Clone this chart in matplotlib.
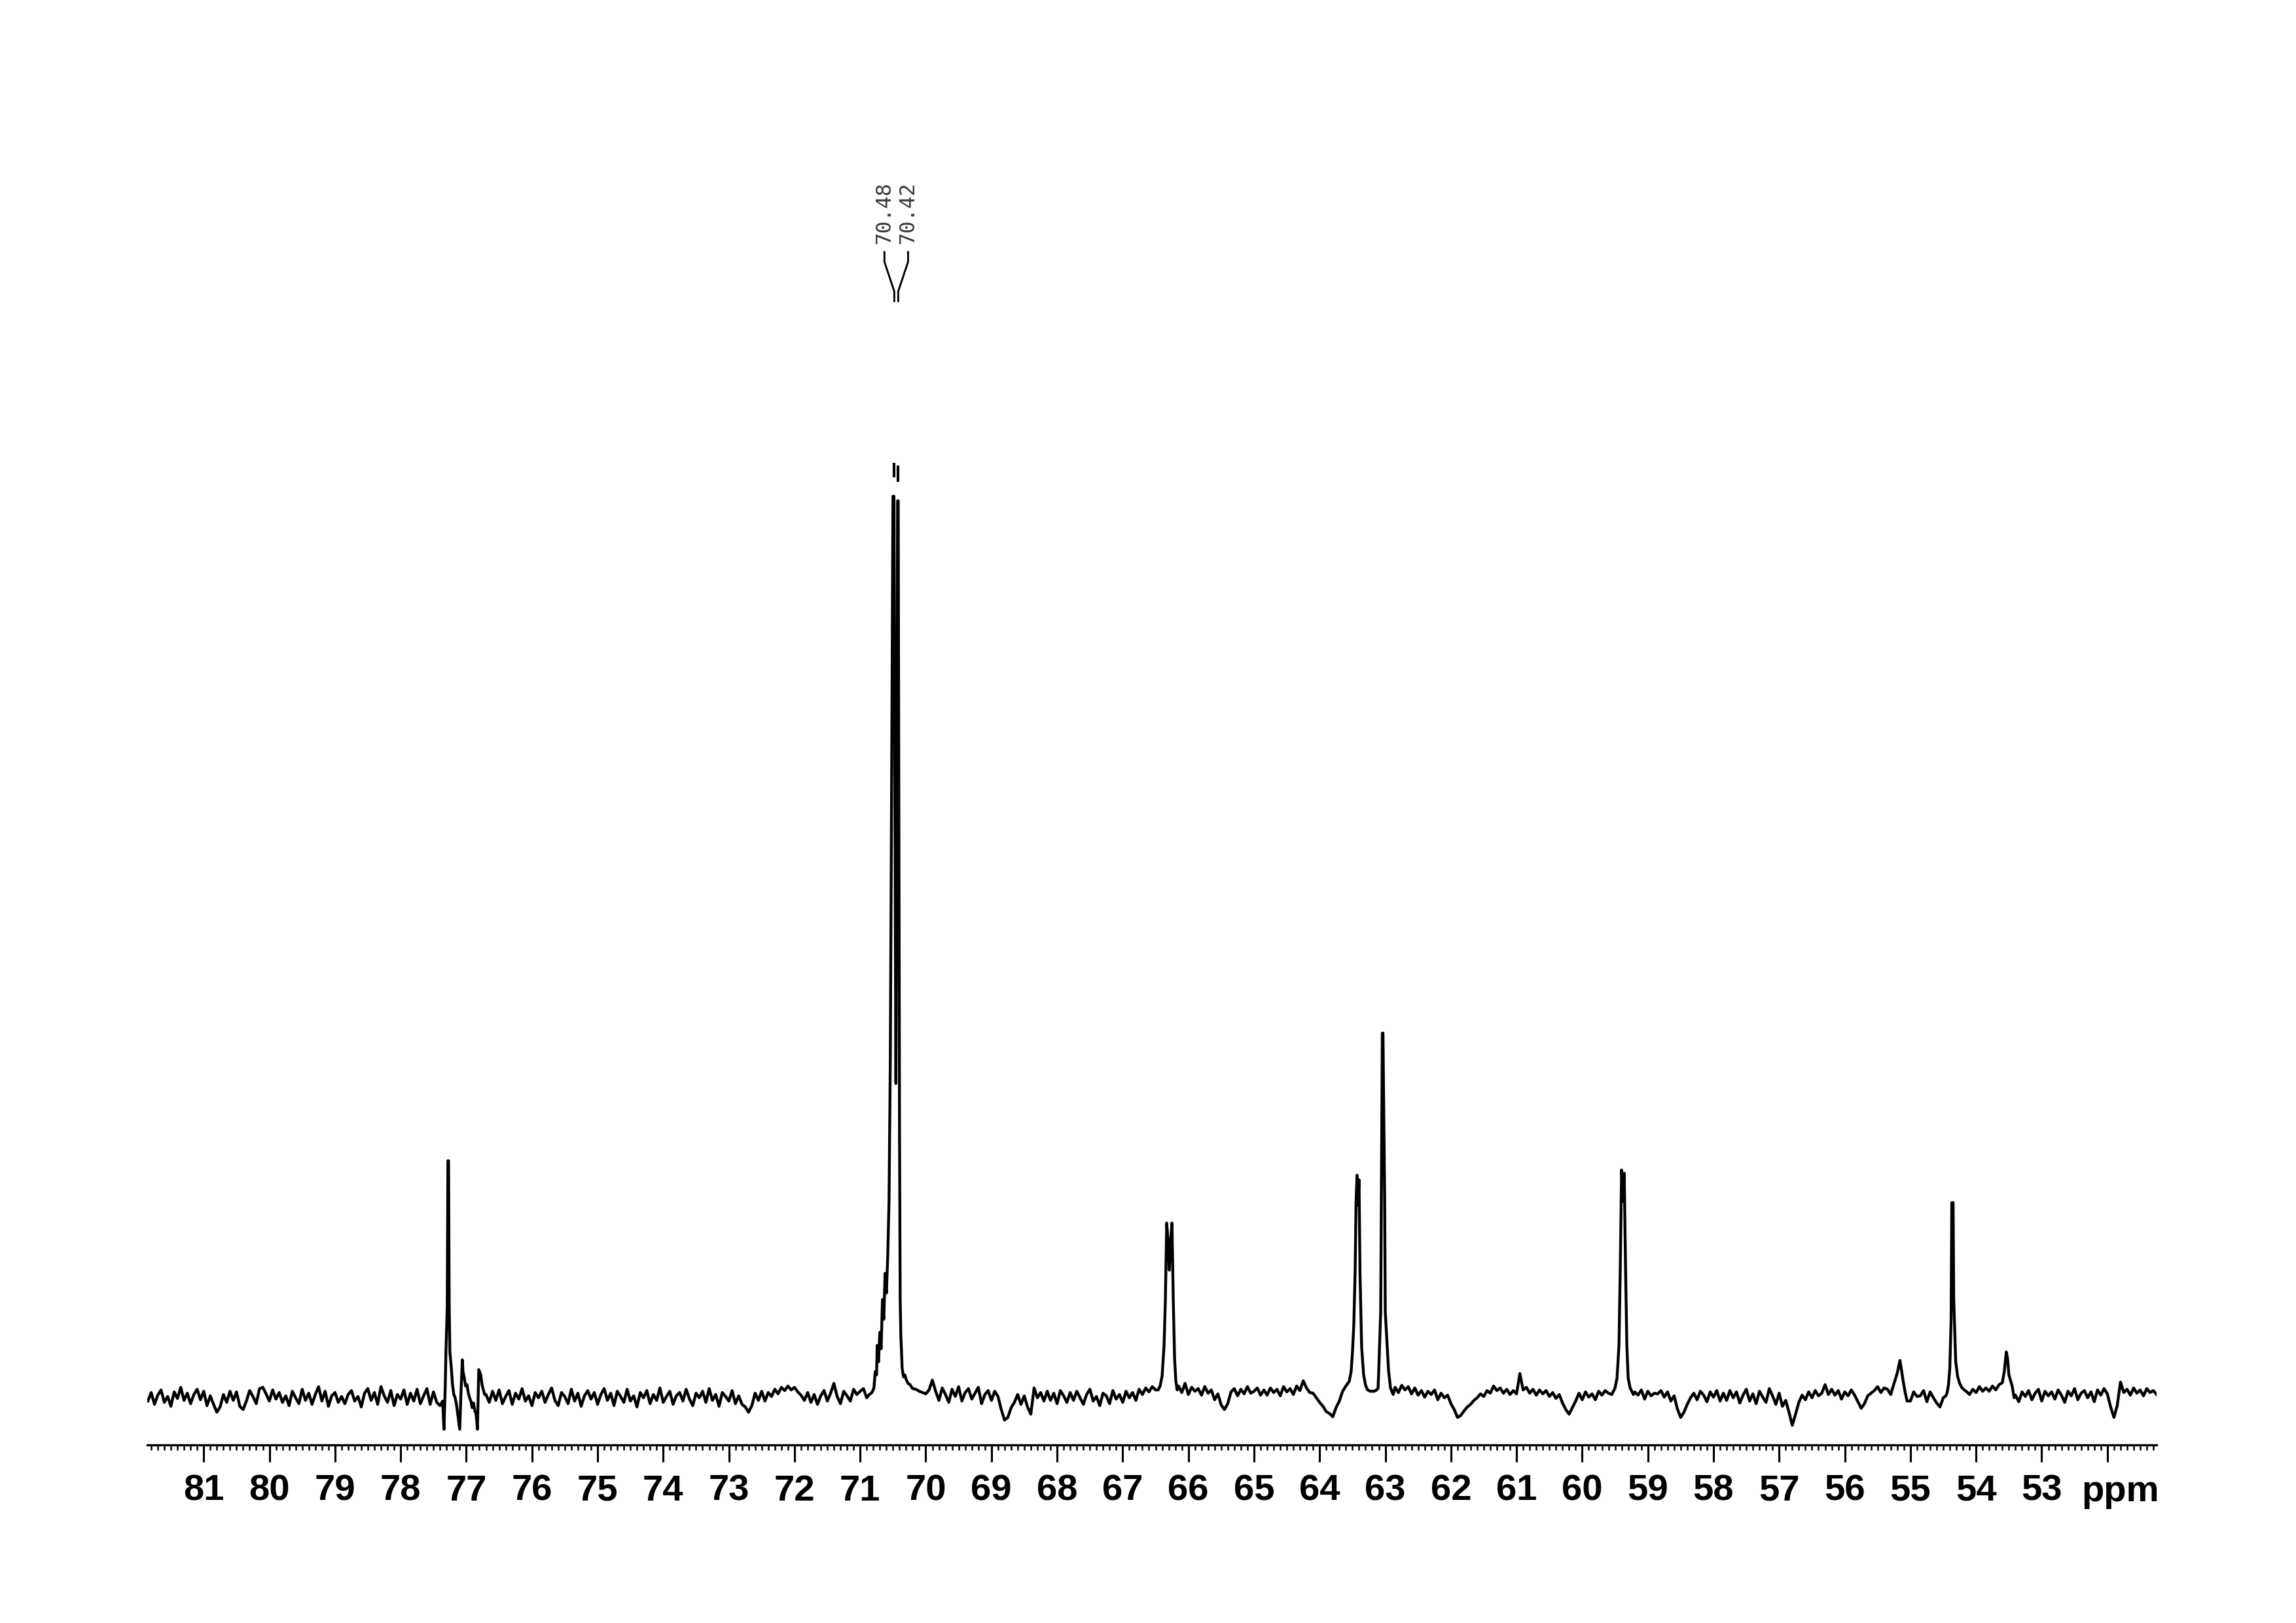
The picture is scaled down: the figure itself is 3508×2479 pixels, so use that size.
import numpy as np
import matplotlib
matplotlib.use("Agg")
import matplotlib.pyplot as plt
import matplotlib.transforms as mtransforms
from matplotlib.ticker import FixedLocator, MultipleLocator, FuncFormatter

plt.rcParams['font.family'] = ['Liberation Sans', 'DejaVu Sans']

# baseline, one value every 0.05 ppm from 81.85 ppm downwards
base_start = 81.85
base_step = 0.05
base_int = [
    -5, 8, -10, 4, 12, -7, 2, -13, 9, -1, 16, -4, 7, -9, 5, 13, -3, 10, -12, 3,          # 81.85
    -10, -22, -14, 5, -7, 10, -4, 9, -13, -18, -5, 11, 2, -9, 14, 16, 6, -5, 12, -2,     # 80.85
    8, -7, 3, -12, 10, 0, -9, 13, -4, 7, -10, 5, 17, -5, 10, -13, 3, 8, -7, 2,           # 79.85
    -9, 5, 11, -5, 2, -14, 7, 14, -4, 8, -10, 17, 3, -7, 11, -12, 5, -2, 12, -10,        # 78.85
    7, -5, 13, -9, 3, 14, -10, 9, -7, -12, 0, 0, 0, 0, 0, 0, 0, 0, 0, 0,                 # 77.85
    0, 0, 0, 5, -7, 10, -4, 12, -9, 2, 11, -10, 7, -2, 14, -5, 3, -12, 8, 0,             # 76.85
    10, -7, 5, 15, -4, -12, 8, 2, -9, 13, -5, 7, -13, 3, 11, -2, 8, -10, 5, 14,          # 75.85
    -4, 7, -12, 10, 2, -7, 13, -5, 3, -14, 8, 0, 11, -9, 5, -4, 15, -7, 2, 10,           # 74.85
    -10, 3, 8, -5, 13, -2, -12, 7, 0, 10, -7, 14, -4, 5, -13, 8, 2, -5, 11, -9,          # 73.85
    3, -10, -14, -22, -12, 7, -4, 10, -5, 8, 2, 13, 6, 16, 11, 18, 12, 16, 9, 4,         # 72.85
    -4, 8, -7, 5, -10, 3, 11, -5, 7, 22, 2, -9, 10, 3, -5, 13, 5, 10, 14, 0,             # 71.85
    0, 0, 0, 0, 0, 0, 0, 0, 0, 0, 0, 0, 0, 0, 0, 0, 0, 0, 12, 27,                        # 70.85
    10, -4, 15, 5, -7, 13, 2, 17, -5, 8, 14, -2, 7, 16, -9, 5, 11, -4, 10, 2,            # 69.85
    -18, -34, -30, -15, -7, 5, -10, 3, -14, -25, 15, 0, 8, -5, 10, -4, 7, -9, 11, 3,     # 68.85
    -7, 8, -4, 10, 0, -10, 5, 13, -5, 2, -12, 7, 3, -9, 11, -2, 5, -7, 10, 0,            # 67.85
    8, -4, 13, 5, 15, 9, 17, 12, 0, 0, 0, 0, 0, 0, 18, 8, 22, 5, 16, 10,                 # 66.85
    14, 4, 17, 7, 12, -3, 6, -11, -18, -9, 9, 14, 3, 13, 6, 17, 7, 10, 15, 4,            # 65.85
    12, 4, 15, 8, 13, 3, 17, 9, 14, 5, 18, 11, 26, 15, 8, 7, 0, -7, -13, -21,            # 64.85
    -24, -29, 0, 0, 0, 0, 0, 0, 0, 0, 0, 0, 0, 0, 0, 0, 0, 0, 0, 0,                      # 63.85
    16, 8, 19, 12, 17, 6, 15, 4, 11, 1, 10, 5, 12, -3, 7, 0, 4, -9, -18, -30,            # 62.85
    -27, -20, -14, -10, -4, 0, 6, 2, 11, 7, 18, 11, 15, 7, 13, 5, 11, 6, 37, 12,         # 61.85
    16, 7, 13, 4, 12, 6, 11, 2, 8, -1, 5, -8, -18, -25, -15, -5, 7, -3, 9, 1,            # 60.85
    6, -3, 10, 4, 11, 7, 0, 0, 0, 0, 0, 0, 0, 9, 4, 12, -2, 10, 3, 7,                    # 59.85
    6, 11, 1, 9, -5, 3, -17, -30, -22, -10, 0, 7, -3, 10, 4, -6, 9, 1, 11, -5,           # 58.85
    7, -4, 11, 0, 9, -8, 4, 13, -5, 6, -9, 10, 1, -7, 14, 3, -10, 7, -13, -4,            # 57.85
    -22, -42, -25, -7, 4, -3, 9, 0, 11, 3, 7, 20, 5, 13, 4, 11, -2, 9, 3, 12,            # 56.85
    4, -6, -16, -9, 3, 7, 11, 17, 8, 15, 13, 0, 0, 0, 0, 0, 0, -5, 9, 2,                 # 55.85
    3, 11, -6, 9, 0, -8, -14, 0, 0, 0, 0, 0, 0, 0, 0, 0, 13, 8, 17, 10,                  # 54.85
    15, 0, 0, 0, 0, 0, 0, 0, 0, 4, -6, 9, 2, 11, -3, 7, 13, -5, 10, 3,                   # 53.85
    9, -2, 12, 4, -7, 10, 3, 14, -3, 7, 11, 0, 9, -6, 12, 4, 14, 6, -14, -30,            # 52.85
    -12, 24, 8, 13, 4, 15, 7, 12, 3, 14, 8, 11, 5,                                       # 51.85
]

# signal regions (ppm, intensity)
cdcl3_ppm = [77.36, 77.34, 77.32, 77.31, 77.29, 77.28, 77.27, 77.26, 77.25, 77.23, 77.21,
             77.19, 77.17, 77.15, 77.13, 77.10, 77.08, 77.06, 77.05, 77.03, 77.01, 76.99,
             76.97, 76.95, 76.93, 76.91, 76.89, 76.87, 76.85, 76.83, 76.82, 76.81, 76.79,
             76.78, 76.76, 76.74, 76.72]
cdcl3_int = [-5, -48, 20, 70, 140, 362, 362, 138, 70, 48, 20,
             5, 0, -10, -25, -48, 10, 58, 40, 30, 18, 20,
             8, 0, -5, -15, -8, -20, -25, -48, 0, 43, 38,
             35, 20, 12, 5]

main_ppm = [70.90, 70.86, 70.82, 70.79, 70.77, 70.75, 70.74, 70.72, 70.70, 70.68, 70.66,
            70.64, 70.62, 70.60, 70.58, 70.56, 70.54, 70.52, 70.50, 70.485, 70.47, 70.455,
            70.44, 70.43, 70.42, 70.41, 70.40, 70.39, 70.38, 70.36, 70.34, 70.32, 70.30,
            70.27, 70.24, 70.20, 70.15, 70.10, 70.05, 70.00]
main_int = [0, 5, 8, 15, 40, 35, 80, 55, 100, 75, 150,
            120, 190, 160, 215, 300, 520, 950, 1377, 1377, 900, 480,
            950, 1370, 1370, 900, 400, 150, 95, 45, 32, 35, 28,
            22, 20, 14, 13, 10, 8, 6]

d66_ppm = [66.46, 66.43, 66.40, 66.37, 66.35, 66.33, 66.31, 66.29, 66.27, 66.25, 66.23,
           66.21, 66.19, 66.17]
d66_int = [12, 18, 33, 80, 150, 267, 240, 195, 240, 267, 150, 60, 25, 12]

p63_ppm = [63.75, 63.70, 63.65, 63.60, 63.55, 63.52, 63.50, 63.48, 63.46, 63.445, 63.43,
           63.415, 63.40, 63.385, 63.36, 63.33, 63.30, 63.27, 63.23, 63.17, 63.13, 63.11,
           63.10, 63.07, 63.06, 63.045, 63.035, 63.01, 63.00, 62.95, 62.92, 62.88]
p63_int = [-15, -5, 10, 18, 25, 40, 70, 110, 190, 300, 340,
           294, 333, 190, 77, 35, 19, 12, 10, 10, 12, 15,
           41, 131, 305, 557, 557, 305, 131, 41, 15, 5]

p59_ppm = [59.55, 59.50, 59.47, 59.44, 59.42, 59.40, 59.38, 59.36, 59.34, 59.32, 59.30,
           59.27, 59.22]
p59_int = [5, 15, 30, 80, 200, 348, 300, 343, 200, 80, 30, 15, 5]

p55_ppm = [55.30, 55.28, 55.24, 55.20, 55.16, 55.14, 55.11, 55.08, 55.05]
p55_int = [5, 12, 25, 38, 57, 45, 25, 8, -5]

p54_ppm = [54.50, 54.46, 54.44, 54.42, 54.40, 54.38, 54.37, 54.35, 54.34, 54.31, 54.28,
           54.25, 54.22, 54.18, 54.14, 54.10]
p54_int = [0, 3, 8, 20, 45, 120, 298, 298, 150, 55, 32, 22, 16, 12, 9, 5]

p53_ppm = [53.80, 53.75, 53.70, 53.65, 53.60, 53.57, 53.54, 53.52, 53.50, 53.47, 53.45,
           53.42]
p53_int = [10, 18, 12, 20, 23, 40, 70, 60, 35, 25, 18, 0]

# peak-picking labels
label_text = ["70.48", "70.42"]
label_ppm = [70.48, 70.42]
# short marks above the clipped apexes
apex_low = [1406, 1399]
apex_high = [1428, 1424]

segments = [(cdcl3_ppm, cdcl3_int), (main_ppm, main_int), (d66_ppm, d66_int),
            (p63_ppm, p63_int), (p59_ppm, p59_int), (p55_ppm, p55_int),
            (p54_ppm, p54_int), (p53_ppm, p53_int)]

base_ppm = base_start - base_step * np.arange(len(base_int))
base_val = np.array(base_int, dtype=float)
keep = np.ones(len(base_ppm), dtype=bool)
for p, _ in segments:
    keep &= ~((base_ppm >= min(p) - 1e-6) & (base_ppm <= max(p) + 1e-6))

x = np.concatenate([base_ppm[keep]] + [np.array(p, dtype=float) for p, _ in segments])
y = np.concatenate([base_val[keep]] + [np.array(v, dtype=float) for _, v in segments])
order = np.argsort(-x)
x, y = x[order], y[order]

W, H = 3508, 2479
fig = plt.figure(figsize=(W / 300, H / 300), dpi=300)
ax = fig.add_axes([225 / W, (H - 2207) / H, 3070 / W, (2207 - 735) / H])

ax.plot(x, y, color='black', lw=1.05)
ax.set_xlim(81.86, 51.25)
ax.set_ylim(-72, 1400)

for s in ['left', 'right', 'top']:
    ax.spines[s].set_visible(False)
ax.spines['bottom'].set_linewidth(0.8)
ax.set_yticks([])

majors = list(range(81, 51, -1))
ax.xaxis.set_major_locator(FixedLocator(majors))
ax.xaxis.set_minor_locator(MultipleLocator(0.1))
ax.xaxis.set_major_formatter(FuncFormatter(lambda v, pos: '' if round(v) == 52 else f'{v:.0f}'))
ax.tick_params(axis='x', which='major', length=6.2, width=0.75, pad=4.5,
               labelsize=13.5, direction='out')
ax.tick_params(axis='x', which='minor', length=1.9, width=0.6, direction='out')
for lab in ax.get_xticklabels():
    lab.set_fontweight('bold')

trans = mtransforms.blended_transform_factory(ax.transData, fig.transFigure)
ax.text(51.80, 1 - 2293 / H, 'ppm', transform=trans, ha='center', va='baseline',
        fontsize=13.5, fontweight='bold')

# labels with connectors
def fy(py):
    return 1 - py / H

spread = 0.18
center = np.mean(label_ppm)
for i, (txt, p) in enumerate(zip(label_text, label_ppm)):
    xt = center + spread if i == 0 else center - spread
    ax.text(xt, fy(372), txt, transform=trans, rotation=90, ha='center', va='bottom',
            fontsize=7.6, family='DejaVu Sans Mono', color='#3a3a3a')
    ax.plot([xt, xt, p, p], [fy(385), fy(400), fy(445), fy(460)], transform=trans,
            color='black', lw=0.7, clip_on=False)

ax.vlines(label_ppm, apex_low, apex_high, color='black', lw=1.0, clip_on=False)

fig.savefig('out.png', dpi=300)
